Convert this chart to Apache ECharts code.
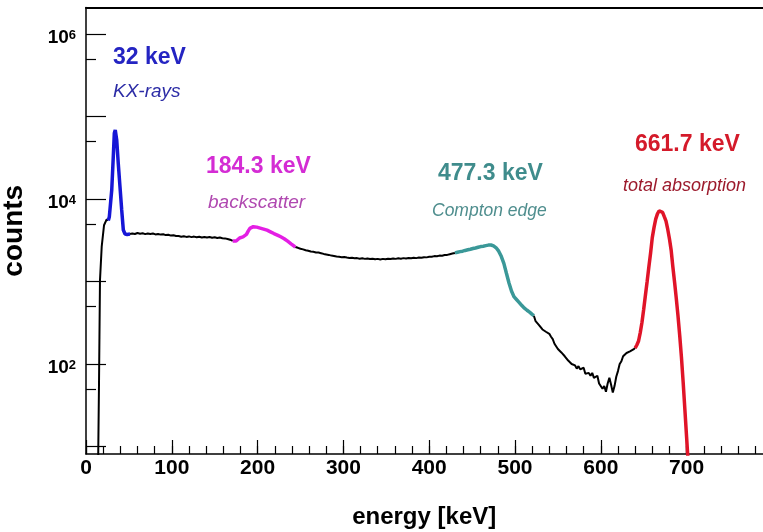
<!DOCTYPE html>
<html>
<head>
<meta charset="utf-8">
<script src="https://cdn.jsdelivr.net/npm/echarts@6/dist/echarts.min.js"></script>
<style>
  html, body { margin: 0; padding: 0; background: #ffffff; }
  #chart { width: 763px; height: 532px; }
</style>
</head>
<body>
<div id="chart"></div>
<script>
// Cs-137 gamma spectrum: channel energy [keV] and counts per bin
const energy = [
  13.4, 14.3, 15.2, 16.3, 18.3, 21.0, 24.1, 26.0,
  27.2, 30.0, 31.8, 33.0, 34.1, 35.8, 37.6, 39.6, 41.6, 43.5, 45.5, 48.0, 51.3,
  54, 57, 60, 63, 66, 69, 72, 75, 78, 81, 84, 87, 90, 93, 96, 99, 102, 105, 108, 111,
  114, 117, 120, 123, 126, 129, 132, 135, 138, 141, 144, 147, 150, 153, 156, 159, 162, 165, 168, 171,
  173, 175, 177, 179, 181, 183, 185, 187, 189, 191, 193, 195, 197, 199, 201, 203, 205, 207, 209, 211,
  213, 215, 217, 219, 221, 223, 225, 227, 229, 231, 233, 235, 237, 239, 241, 243, 244,
  247, 250, 253, 256, 259, 262, 265, 268, 271, 274, 277, 280, 283, 286, 289, 292, 295, 298, 301,
  304, 307, 310, 313, 316, 319, 322, 325, 328, 331, 334, 337, 340, 343, 346, 349, 352, 355, 358, 361,
  364, 367, 370, 373, 376, 379, 382, 385, 388, 391, 394, 397, 400, 403, 406, 409, 412, 415, 418, 421,
  424, 427, 430,
  433, 436, 439, 442, 445, 448, 451, 454, 457, 460, 463, 466, 469, 472, 475, 478, 481, 484, 487, 490,
  493, 496, 499, 502, 505, 508, 511, 514, 517, 520, 522,
  524, 526, 528, 530, 532, 534, 536, 538, 540, 542, 544, 546, 548, 550, 552, 554, 556, 558, 560, 562,
  564, 566, 568, 570, 572, 574, 576, 578, 580, 582, 584, 586, 588, 590, 592, 594, 596, 598, 600, 602,
  604, 606, 608, 610, 612, 614, 616, 618, 620, 622, 624, 626, 628, 630, 632, 634, 636, 638, 640,
  642, 644, 646, 648, 650, 652, 654, 656, 658, 660, 662, 664, 666, 668, 670, 672, 674, 676, 678, 680,
  682, 684, 686, 688, 690, 692, 694, 696, 698, 700, 702, 704
];
const counts = [
  1, 9, 64, 1040, 2640, 4800, 5650, 5500,
  6100, 12850, 32600, 62500, 68500, 51900, 27100, 14100, 7360, 4210, 3760, 3720, 3760,
  3820, 3760, 3870, 3790, 3840, 3750, 3820, 3770, 3810, 3720, 3770, 3700, 3730, 3650, 3690, 3600, 3630, 3560, 3550, 3490,
  3540, 3470, 3520, 3450, 3500, 3440, 3490, 3420, 3470, 3410, 3460, 3390, 3440, 3370, 3420, 3350, 3330, 3280, 3210, 3100,
  3010, 3100, 3260, 3370, 3420, 3470, 3520, 3720, 4080, 4400, 4520, 4620, 4610, 4560, 4490, 4440, 4370, 4320, 4240, 4190,
  4090, 4000, 3900, 3810, 3730, 3650, 3570, 3480, 3400, 3300, 3210, 3080, 2970, 2860, 2750, 2660, 2620,
  2560, 2490, 2450, 2390, 2360, 2310, 2290, 2250, 2240, 2200, 2160, 2130, 2100, 2060, 2040, 2010, 1990, 1970, 1980,
  1950, 1930, 1940, 1910, 1920, 1890, 1910, 1880, 1900, 1870, 1890, 1860, 1880, 1850, 1880, 1860, 1890, 1870, 1900, 1880,
  1910, 1890, 1920, 1900, 1930, 1910, 1940, 1920, 1950, 1940, 1970, 1960, 1990, 2000, 2030, 2020, 2060, 2050, 2090, 2100,
  2140, 2180, 2220,
  2260, 2300, 2330, 2380, 2420, 2460, 2510, 2550, 2600, 2650, 2680, 2720, 2760, 2770, 2700, 2560, 2330, 2020, 1660, 1260,
  960, 760, 650, 600, 555, 510, 475, 448, 425, 400, 385,
  330, 318, 296, 292, 262, 264, 246, 250, 232, 214, 200, 176, 174, 152, 156, 138, 140, 124, 128, 110,
  116, 100, 98, 96, 88, 94, 86, 84, 90, 76, 80, 78, 72, 78, 68, 66, 72, 58, 60, 50,
  54, 46, 58, 68, 56, 45, 54, 70, 82, 100, 108, 124, 122, 136, 134, 142, 140, 150, 156,
  170, 190, 240, 320, 460, 680, 1000, 1500, 2200, 3400, 4500, 5700, 6600, 7200, 7400, 6900, 6100, 5400, 4300, 3300,
  2400, 1500, 980, 620, 380, 220, 120, 60, 28, 13, 6, 2
];

// highlighted spectral features: energy range of each coloured stretch
const regionLo = [26.0, 171, 430, 640];
const regionHi = [51.3, 244, 522, 704];
const regionColors = ['#1616d6', '#e41ee4', '#3a9898', '#e01428'];

// peak annotations
const peakLabels = ['32 keV', '184.3 keV', '477.3 keV', '661.7 keV'];
const peakNotes = ['KX-rays', 'backscatter', 'Compton edge', 'total absorption'];
const labelColors = ['#2424c2', '#d42cd4', '#3f8c8c', '#d41a2a'];
const noteColors = ['#2c2ca6', '#b048b0', '#4f8e8e', '#9c1a2c'];

// axis ticks
const xTickLabels = [0, 100, 200, 300, 400, 500, 600, 700];
const yDecadeTicks = [10, 100, 1000, 10000, 100000, 1000000];
const yTickLabels = [100, 10000, 1000000];
const yHalfTicks = [50, 500, 5000, 50000, 500000];

const insideRegion = e => regionLo.some((lo, k) => e > lo && e < regionHi[k]);

const blackData = energy.map((e, i) => [e, insideRegion(e) ? null : counts[i]]);
const regionData = regionLo.map((lo, k) =>
  energy.map((e, i) => [e, counts[i]]).filter(p => p[0] >= lo && p[0] <= regionHi[k]));

const SANS = '"Liberation Sans", Arial, sans-serif';

const chart = echarts.init(document.getElementById('chart'), null, { renderer: 'canvas' });

const labelX = [113, 206, 438, 635];
const labelBase = [66, 175, 182, 153];
const noteX = [113, 208, 432, 623];
const noteBase = [98, 209, 217, 192];
const noteSize = [19, 19, 17.5, 18];

const graphics = [];
peakLabels.forEach((t, k) => {
  graphics.push({
    type: 'text', left: labelX[k], top: labelBase[k] - 23 * 0.85,
    style: { text: t, fill: labelColors[k], font: 'bold 23px ' + SANS }
  });
  graphics.push({
    type: 'text', left: noteX[k], top: noteBase[k] - noteSize[k] * 0.85,
    style: { text: peakNotes[k], fill: noteColors[k], font: 'italic ' + noteSize[k] + 'px ' + SANS }
  });
});

const yAxisBase = {
  type: 'log', logBase: 10, min: 8.11, max: 2.094e6,
  position: 'left', splitLine: { show: false }
};

const option = {
  animation: false,
  backgroundColor: '#ffffff',
  grid: { left: 86, top: 7.5, width: 686.4, height: 446.5, outerBoundsMode: 'none', containLabel: false },
  xAxis: [
    {
      type: 'value', min: 0, max: 800, interval: 100, position: 'bottom',
      name: 'energy [keV]', nameLocation: 'middle', nameGap: 51,
      nameTextStyle: { fontFamily: SANS, fontWeight: 'bold', fontSize: 24, color: '#000', padding: [0, 10, 0, 0] },
      axisLine: { show: true, lineStyle: { color: '#000', width: 1.5 } },
      axisTick: { show: true, inside: true, length: 14, customValues: xTickLabels, lineStyle: { color: '#000', width: 1.2 } },
      axisLabel: { customValues: xTickLabels, margin: 4, fontFamily: SANS, fontWeight: 'bold', fontSize: 21, color: '#000' },
      splitLine: { show: false }
    },
    {
      type: 'value', min: 0, max: 800, interval: 20, position: 'bottom',
      axisLine: { show: false },
      axisTick: { show: true, inside: true, length: 8, lineStyle: { color: '#000', width: 1.2 } },
      axisLabel: { show: false }, splitLine: { show: false }
    },
    {
      type: 'value', min: 0, max: 800, position: 'top',
      axisLine: { show: true, lineStyle: { color: '#000', width: 2 } },
      axisTick: { show: false }, axisLabel: { show: false }, splitLine: { show: false }
    }
  ],
  yAxis: [
    Object.assign({}, yAxisBase, {
      name: 'counts', nameLocation: 'middle', nameGap: 58, nameRotate: 90,
      nameTextStyle: { fontFamily: SANS, fontWeight: 'bold', fontSize: 28, color: '#000' },
      axisLine: { show: true, lineStyle: { color: '#000', width: 1.5 } },
      axisTick: { show: true, inside: true, length: 20, customValues: yDecadeTicks, lineStyle: { color: '#000', width: 1.2 } },
      axisLabel: {
        customValues: yTickLabels, margin: 10, color: '#000',
        formatter: v => '{b|10}{s|' + Math.round(Math.log10(v)) + '}',
        rich: {
          b: { fontFamily: SANS, fontWeight: 'bold', fontSize: 19, lineHeight: 19, padding: [7, 0, 0, 0], color: '#000' },
          s: { fontFamily: SANS, fontWeight: 'bold', fontSize: 13, lineHeight: 13, padding: [4, 0, 0, 0], verticalAlign: 'top', color: '#000' }
        }
      }
    }),
    Object.assign({}, yAxisBase, {
      axisLine: { show: false },
      axisTick: { show: true, inside: true, length: 10, customValues: yHalfTicks, lineStyle: { color: '#000', width: 1.2 } },
      axisLabel: { show: false }
    })
  ],
  graphic: graphics,
  series: [
    {
      type: 'line', xAxisIndex: 0, yAxisIndex: 0, data: blackData,
      showSymbol: false, symbol: 'none', connectNulls: false, clip: true,
      lineStyle: { color: '#000', width: 2 }, z: 2
    }
  ].concat(regionData.map((d, k) => ({
    type: 'line', xAxisIndex: 0, yAxisIndex: 0, data: d,
    showSymbol: false, symbol: 'none', clip: true,
    lineStyle: { color: regionColors[k], width: 3.5 }, z: 3
  })))
};

chart.setOption(option);
</script>
</body>
</html>
